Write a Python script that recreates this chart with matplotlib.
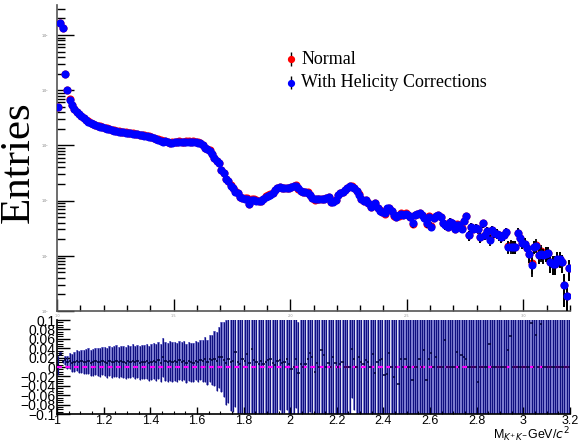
import numpy as np
import matplotlib
matplotlib.use("Agg")
import matplotlib.pyplot as plt
from matplotlib.ticker import FixedLocator, FixedFormatter, MultipleLocator, NullFormatter

# ---------------- data ----------------
bin_lo = 1.0
bin_width = 0.01
n_bins = 220

# entries with helicity corrections (blue)
helicity = [
    4880, 162600, 132000, 19360, 9910, 6700, 5370, 4600, 4010, 3690,
    3390, 3120, 2870, 2675, 2535, 2430, 2330, 2235, 2188, 2143,
    2055, 2013, 1972, 1891, 1852, 1813, 1776, 1761, 1739, 1703,
    1667, 1667, 1633, 1600, 1600, 1535, 1535, 1503, 1472, 1442,
    1412, 1355, 1299, 1272, 1220, 1170, 1195, 1145, 1112, 1121,
    1145, 1160, 1160, 1145, 1160, 1170, 1170, 1160, 1170, 1160,
    1121, 1098, 1011, 881, 856, 797, 694, 587, 518, 477,
    356, 314, 245, 225, 186, 168, 145, 136, 115, 111,
    108, 109, 86, 102, 104, 100, 99, 97.5, 106, 118,
    123, 128, 136, 158, 168, 177, 171, 166, 168, 171,
    179, 186, 186, 166, 151, 144, 144, 139, 125, 111,
    105, 105, 105, 105, 106, 113, 115, 95.5, 94.6, 102,
    125, 136, 144, 154, 171, 186, 179, 168, 151, 128,
    106, 97.5, 102, 88.6, 75, 82.6, 90.8, 72.8, 65.6, 61.6,
    58.4, 71.9, 71.9, 64.2, 54.4, 50.6, 55.5, 57.9, 54.4, 57.9,
    54.4, 51.1, 38.5, 54.4, 56.7, 58.4, 54.4, 48, 38.5, 50.6,
    33.4, 48, 52.1, 54.4, 50.6, 39.7, 35.8, 33.4, 41.1, 38.5,
    31.2, 35.8, 35.8, 31.2, 42.4, 52.1, 23.6, 33.4, 31.2, 32.5,
    31.2, 22, 38.5, 24.3, 28.2, 19.7, 29, 26, 25.3, 23.6,
    22, 23.6, 27.1, 14.5, 14.5, 14.5, 14.5, 26.4, 21.1, 17.4,
    16.7, 13.7, 10.7, 6.7, 14.5, 14.9, 10.2, 11, 10.2, 11,
    11.3, 7.7, 7.2, 7.2, 8.9, 8.9, 7.6, 2.9, 1.9, 5.9,
]

# relative difference (normal - corrected) / corrected, lower panel points
rel_diff = [
    0.004, 0.028, 0.012, 0.014, 0.010, 0.012, 0.009, 0.011, 0.013, 0.010,
    0.012, 0.010, 0.011, 0.013, 0.009, 0.010, 0.012, 0.011, 0.010, 0.013,
    0.011, 0.009, 0.012, 0.010, 0.011, 0.013, 0.010, 0.012, 0.011, 0.009,
    0.012, 0.011, 0.013, 0.010, 0.012, 0.009, 0.011, 0.010, 0.012, 0.008,
    0.011, 0.013, 0.010, 0.014, 0.009, 0.021, 0.012, 0.010, 0.013, 0.011,
    0.012, 0.010, 0.014, 0.011, 0.013, 0.008, 0.012, 0.010, 0.009, 0.013,
    0.011, 0.014, 0.012, 0.016, 0.010, 0.018, 0.015, 0.018, 0.012, 0.021,
    0.021, 0.015, 0.009, 0.017, 0.011, 0.013, 0.032, 0.010, 0.007, 0.016,
    0.012, 0.028, 0.008, 0.039, 0.015, 0.011, 0.006, 0.013, 0.007, 0.010,
    0.014, 0.018, 0.009, 0.004, 0.012, 0.014, 0.008, 0.011, 0.018, 0.006,
    -0.004, 0.0, 0.016, -0.013, 0.007, 0.0, 0.007, 0.016, 0.030, 0.021,
    -0.011, 0.009, 0.0, 0.036, 0.025, 0.0, 0.009, 0.0, 0.021, 0.009,
    0.0, 0.007, 0.011, 0.0, 0.001, 0.0, 0.039, 0.018, 0.0, 0.021,
    0.011, 0.007, 0.014, 0.011, 0.0, 0.027, -0.013, 0.011, 0.014, 0.016,
    -0.018, -0.014, 0.029, 0.0, -0.021, 0.0, -0.037, 0.018, 0.0, 0.016,
    0.0, 0.0, -0.027, 0.0, 0.0, 0.018, 0.0, 0.036, -0.027, 0.018,
    0.030, 0.0, 0.021, 0.0, 0.0, 0.0, 0.057, 0.0, 0.0, 0.0,
    0.0, 0.032, 0.0, 0.026, 0.021, 0.018, 0.0, 0.0, 0.0, 0.0,
    -0.032, 0.0, 0.0, 0.0, 0.0, 0.048, 0.0, 0.0, 0.0, 0.0,
    0.0, 0.0, 0.0, 0.036, 0.066, 0.0, 0.0, 0.0, 0.0, 0.0,
    0.0, 0.0, 0.0, 0.093, 0.0, 0.068, 0.0, 0.091, 0.0, 0.0,
    0.0, 0.0, 0.0, 0.0, 0.0, 0.0, 0.0, 0.0, 0.0, 0.0,
]

x_ticks_lower = [1.0, 1.2, 1.4, 1.6, 1.8, 2.0, 2.2, 2.4, 2.6, 2.8, 3.0, 3.2]
x_labels_lower = ["1", "1.2", "1.4", "1.6", "1.8", "2", "2.2", "2.4", "2.6", "2.8", "3", "3.2"]
y_ticks_lower = [0.1, 0.08, 0.06, 0.04, 0.02, 0.0, -0.02, -0.04, -0.06, -0.08, -0.1]
y_labels_lower = ["0.1", "0.08", "0.06", "0.04", "0.02", "0", "\u22120.02", "\u22120.04",
                  "\u22120.06", "\u22120.08", "\u22120.1"]

# ---------------- derived arrays ----------------
hel = np.array(helicity, dtype=float)
diff = np.array(rel_diff, dtype=float)
centers = bin_lo + bin_width * (np.arange(n_bins) + 0.5)
normal = hel * (1.0 + diff)
err_hel = np.sqrt(hel)
err_norm = np.sqrt(normal)
rel_err = np.sqrt(2.0 / hel)

serif = ["Liberation Serif", "DejaVu Serif"]
sans = ["Liberation Sans", "DejaVu Sans"]

fig = plt.figure(figsize=(5.81, 4.44), dpi=100)
W, H = 581.0, 444.0

# ---------------- top panel ----------------
ax1 = fig.add_axes([57 / W, 1 - 311 / H, 513 / W, 306 / H])
ax1.set_yscale("log")
ax1.set_xlim(1.0, 3.2)
ax1.set_ylim(1.0, 10 ** 5.543)

lo_n = np.minimum(err_norm, normal - 1e-3)
lo_h = np.minimum(err_hel, hel - 1e-3)
ax1.errorbar(centers, normal, yerr=[lo_n, err_norm], fmt="o", ms=4.8, mfc="#ff0000",
             mec="#ff0000", ecolor="black", elinewidth=1.3, capsize=0, zorder=3)
ax1.errorbar(centers, hel, yerr=[lo_h, err_hel], fmt="o", ms=4.8, mfc="#0000ff",
             mec="#0000ff", ecolor="black", elinewidth=1.3, capsize=0, zorder=4)

for s in ["top", "right"]:
    ax1.spines[s].set_visible(False)
ax1.spines["left"].set_linewidth(1.2)
ax1.spines["bottom"].set_linewidth(1.2)
ax1.spines["left"].set_color("#555555")
ax1.spines["bottom"].set_color("#555555")
ax1.xaxis.set_major_locator(MultipleLocator(0.5))
ax1.xaxis.set_minor_locator(MultipleLocator(0.1))
ax1.tick_params(axis="x", which="major", direction="in", length=9, width=1.0,
                labelsize=2.5, labelcolor="#999999", pad=2)
ax1.tick_params(axis="x", which="minor", direction="in", length=4.5, width=1.0)
ax1.tick_params(axis="y", which="major", direction="in", length=12, width=1.0,
                labelsize=2.5, labelcolor="#777777", pad=6)
ax1.tick_params(axis="y", which="minor", direction="in", length=6, width=1.0)
ax1.yaxis.set_minor_formatter(NullFormatter())

fig.text(19 / W, 1 - 162 / H, "Entries", rotation=90, fontsize=31, family=serif,
         ha="center", va="center")

# legend (manual, in axes fraction)
leg_y1 = 1 - (59 - 5) / 306.0
leg_y2 = 1 - (82.7 - 5) / 306.0
ax1.errorbar([0.456], [leg_y1], yerr=[[0.022], [0.022]], fmt="o", ms=4.2, mfc="#ff0000",
             mec="#ff0000", ecolor="black", elinewidth=1.0, transform=ax1.transAxes,
             clip_on=False, zorder=5)
ax1.errorbar([0.456], [leg_y2], yerr=[[0.022], [0.022]], fmt="o", ms=4.2, mfc="#0000ff",
             mec="#0000ff", ecolor="black", elinewidth=1.0, transform=ax1.transAxes,
             clip_on=False, zorder=5)
ax1.text(0.476, leg_y1, "Normal", transform=ax1.transAxes, fontsize=13, family=serif,
         va="center", ha="left")
ax1.text(0.476, leg_y2, "With Helicity Corrections", transform=ax1.transAxes, fontsize=13,
         family=serif, va="center", ha="left")

# ---------------- bottom panel ----------------
ax2 = fig.add_axes([57 / W, 1 - 414 / H, 513 / W, 94 / H])
ax2.set_xlim(1.0, 3.2)
ax2.set_ylim(-0.1, 0.1)
ax2.bar(centers, 2 * rel_err, bottom=diff - rel_err, width=bin_width * 0.95,
        color="#8c8cdc", linewidth=0, zorder=1)
ax2.vlines(centers, diff - rel_err, diff + rel_err, color="#101080", lw=0.9, zorder=2)
ax2.axhline(0.0, color="#ff00ff", ls=(0, (2.2, 1.6)), lw=1.6, zorder=3)
ax2.errorbar(centers, diff, xerr=bin_width * 0.5, fmt="none", ecolor="#000033",
             elinewidth=1.1, zorder=4)

for s in ["top", "right"]:
    ax2.spines[s].set_visible(False)
ax2.spines["left"].set_linewidth(1.2)
ax2.spines["bottom"].set_linewidth(1.2)
ax2.xaxis.set_major_locator(FixedLocator(x_ticks_lower))
ax2.xaxis.set_major_formatter(FixedFormatter(x_labels_lower))
ax2.xaxis.set_minor_locator(MultipleLocator(0.05))
ax2.yaxis.set_major_locator(FixedLocator(y_ticks_lower))
ax2.yaxis.set_major_formatter(FixedFormatter(y_labels_lower))
ax2.yaxis.set_minor_locator(MultipleLocator(0.005))
ax2.tick_params(axis="x", which="major", direction="in", length=5, width=1.0,
                labelsize=9, pad=1)
ax2.tick_params(axis="x", which="minor", direction="in", length=2.5, width=0.8)
ax2.tick_params(axis="y", which="major", direction="in", length=9, width=1.0,
                labelsize=10, pad=1)
ax2.tick_params(axis="y", which="minor", direction="in", length=4.5, width=0.8)
for lab in ax2.get_xticklabels() + ax2.get_yticklabels():
    lab.set_family(sans)

fig.text(570 / W, 1 - 435 / H, r"M$_{K^{+}K^{-}}$GeV/$c^{2}$", fontsize=9,
         family=sans, ha="right", va="center")

fig.savefig("out.png", dpi=100)
